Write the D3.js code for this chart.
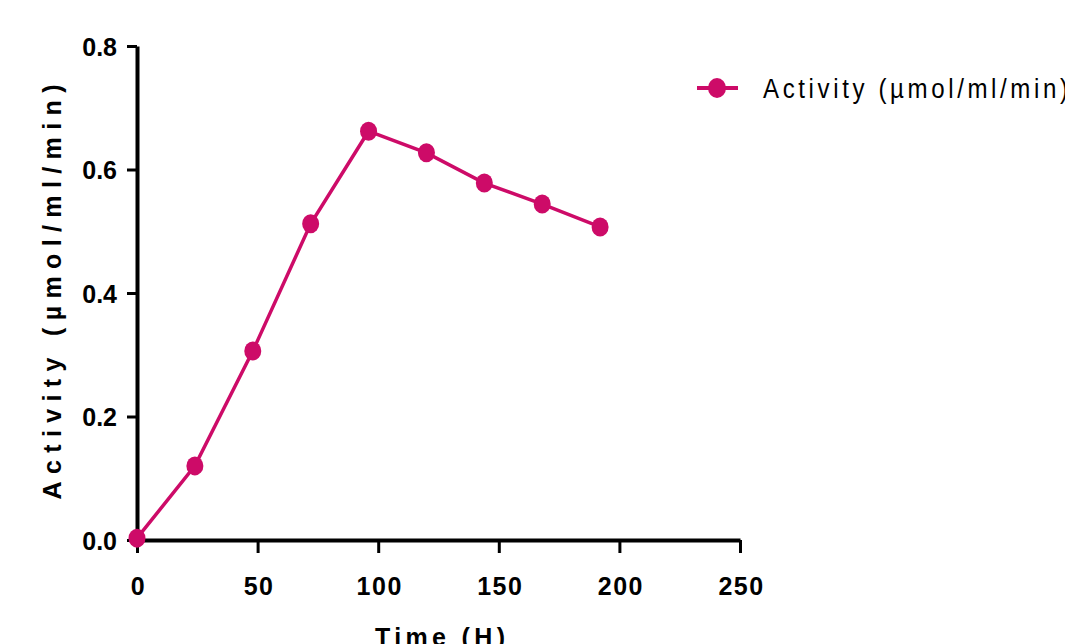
<!DOCTYPE html>
<html>
<head>
<meta charset="utf-8">
<script src="https://cdn.jsdelivr.net/npm/d3@7"></script>
<style>
  body { margin: 0; background: #fff; }
  svg { display: block; }
  .tick text { font-family: "Liberation Sans", Arial, sans-serif; font-weight: bold; font-size: 25px; fill: #000; }
</style>
</head>
<body>
<svg id="chart" width="1065" height="644"></svg>
<script>
// data
const hours = [0, 24, 48, 72, 96, 120, 144, 168, 192];
const activity = [0.003, 0.12, 0.306, 0.512, 0.662, 0.627, 0.578, 0.544, 0.507];
const xTicks = [0, 50, 100, 150, 200, 250];
const yTicks = [0.0, 0.2, 0.4, 0.6, 0.8];
const seriesName = "Activity (\u00b5mol/ml/min)";

const pink = "#cd0b68";
const svg = d3.select("#chart");

const x = d3.scaleLinear().domain([0, 250]).range([137, 740]);
const y = d3.scaleLinear().domain([0, 0.8]).range([540, 46]);

// x axis
const xAxisG = svg.append("g")
  .attr("transform", "translate(0,540)")
  .call(d3.axisBottom(x).tickValues(xTicks).tickSize(13).tickSizeOuter(0).tickPadding(24).tickFormat(d3.format("d")));
xAxisG.select(".domain").attr("stroke-width", 4).attr("stroke", "#000");
xAxisG.selectAll(".tick line").attr("stroke-width", 3).attr("stroke", "#000");
xAxisG.selectAll(".tick text").attr("letter-spacing", "1.5px").attr("dx", "1px");

// y axis
const yAxisG = svg.append("g")
  .attr("transform", "translate(137,0)")
  .call(d3.axisLeft(y).tickValues(yTicks).tickSize(10).tickSizeOuter(0).tickPadding(10).tickFormat(d3.format(".1f")));
yAxisG.select(".domain").attr("stroke-width", 4).attr("stroke", "#000");
yAxisG.selectAll(".tick line").attr("stroke-width", 3).attr("stroke", "#000");
yAxisG.selectAll(".tick text").attr("dy", "0.36em");

// axis titles
svg.append("text")
  .attr("transform", "translate(61,292) rotate(-90)")
  .attr("text-anchor", "middle")
  .attr("textLength", 415)
  .attr("lengthAdjust", "spacing")
  .style("font-family", "Liberation Sans, Arial, sans-serif")
  .style("font-weight", "bold")
  .style("font-size", "25px")
  .text(seriesName);

// title sits partly below the bottom edge, as in the original
svg.append("text")
  .attr("x", 440)
  .attr("y", 646)
  .attr("text-anchor", "middle")
  .attr("textLength", 130)
  .attr("lengthAdjust", "spacing")
  .style("font-family", "Liberation Sans, Arial, sans-serif")
  .style("font-weight", "bold")
  .style("font-size", "25px")
  .text("Time (H)");

// series line
const pts = hours.map((h, i) => [h, activity[i]]);
svg.append("path")
  .datum(pts)
  .attr("fill", "none")
  .attr("stroke", pink)
  .attr("stroke-width", 3.5)
  .attr("d", d3.line().x(d => x(d[0])).y(d => y(d[1])));

svg.selectAll("ellipse.pt")
  .data(pts)
  .join("ellipse")
  .attr("class", "pt")
  .attr("cx", d => x(d[0]))
  .attr("cy", d => y(d[1]))
  .attr("rx", 8.5)
  .attr("ry", 9.5)
  .attr("fill", pink);

// legend
const leg = svg.append("g").attr("transform", "translate(697,88)");
leg.append("line").attr("x1", 0).attr("x2", 41).attr("y1", 0).attr("y2", 0)
  .attr("stroke", pink).attr("stroke-width", 4);
leg.append("ellipse").attr("cx", 20).attr("cy", 0).attr("rx", 9).attr("ry", 10).attr("fill", pink);
leg.append("text")
  .attr("transform", "translate(66,10) scale(0.86,1)")
  .attr("textLength", 305 / 0.86)
  .attr("lengthAdjust", "spacing")
  .style("font-family", "Liberation Sans, Arial, sans-serif")
  .style("font-size", "28px")
  .text(seriesName);
</script>
</body>
</html>
